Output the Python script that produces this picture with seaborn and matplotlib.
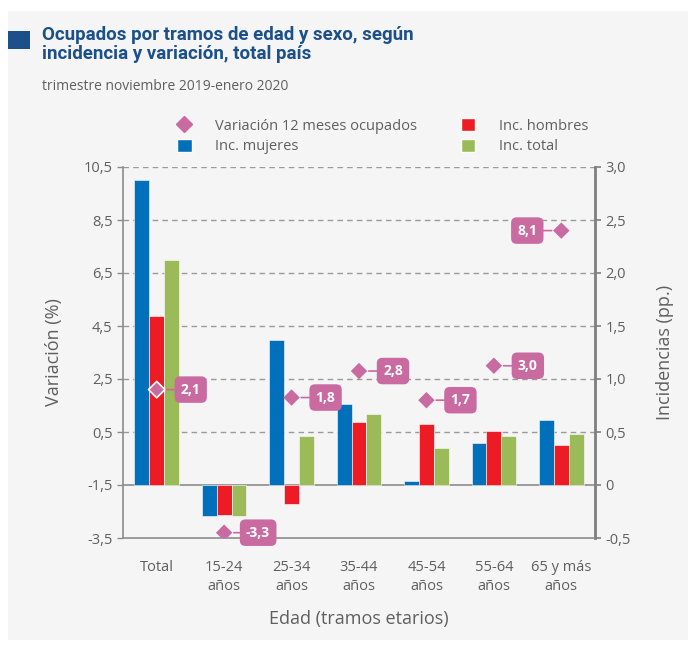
import numpy as np
import pandas as pd
import seaborn as sns
from matplotlib import pyplot as plt
from matplotlib.lines import Line2D
from matplotlib.patches import Patch, Rectangle

categories = ["Total", "15-24\naños", "25-34\naños", "35-44\naños", "45-54\naños", "55-64\naños", "65 y más\naños"]
inc_mujeres = [2.88, -0.29, 1.37, 0.76, 0.04, 0.40, 0.61]
inc_hombres = [1.59, -0.28, -0.18, 0.59, 0.58, 0.51, 0.38]
inc_total = [2.12, -0.29, 0.46, 0.67, 0.35, 0.46, 0.48]
variacion = [2.1, -3.3, 1.8, 2.8, 1.7, 3.0, 8.1]

series_names = ["Inc. mujeres", "Inc. hombres", "Inc. total"]
colors = ["#0070ba", "#ed1c24", "#9bbb59"]
pink = "#c96aa1"
navy = "#1b508a"
gray_txt = "#5f5f5f"

df = pd.DataFrame({
    "Edad": categories * 3,
    "serie": [s for s in series_names for _ in categories],
    "valor": inc_mujeres + inc_hombres + inc_total,
})

sns.set_style("ticks")
plt.rcParams["font.family"] = ["Open Sans", "DejaVu Sans"]

fig = plt.figure(figsize=(6.88, 6.48), dpi=100)
fig.patch.set_facecolor("white")
fig.patches.append(Rectangle((8 / 688, 8 / 648), 1 - 8 / 688, 1 - 19 / 648,
                             transform=fig.transFigure, facecolor="#f5f5f5",
                             edgecolor="none", zorder=-10))

ax = fig.add_axes([123 / 688, 110 / 648, 472 / 688, 371 / 648])
ax.set_facecolor("none")
ax2 = ax.twinx()

# bars on the incidences scale
sns.barplot(data=df, x="Edad", y="valor", hue="serie", palette=colors,
            saturation=1, width=0.66, ax=ax, edgecolor="white",
            linewidth=0.4, legend=False)

ax.set_ylim(-0.5, 3.0)
ax.set_xlim(-0.5, 6.5)
ax.yaxis.tick_right()
ax.yaxis.set_label_position("right")
ax.set_yticks(np.arange(-0.5, 3.01, 0.5))
ax.set_yticklabels(["-0,5", "0", "0,5", "1,0", "1,5", "2,0", "2,5", "3,0"])
for y in np.arange(0.5, 3.01, 0.5):
    ax.axhline(y, color="#9a9a9a", lw=1, ls=(0, (4, 3)), zorder=0)
ax.axhline(0, color="#8c8c8c", lw=1.2, zorder=0.5)
ax.set_ylabel("Incidencias (pp.)", fontsize=13, color=gray_txt, labelpad=18)
ax.set_xlabel("Edad (tramos etarios)", fontsize=13, color=gray_txt, labelpad=12)
ax.tick_params(axis="x", length=0, labelsize=10.5, labelcolor=gray_txt, pad=16)
ax.tick_params(axis="y", length=4, width=1.2, color="#7f7f7f", labelsize=10.5, labelcolor=gray_txt)
for lab in ax.get_xticklabels():
    lab.set_linespacing(1.3)

ax.spines["top"].set_visible(False)
ax.spines["left"].set_visible(False)
ax.spines["right"].set_color("#7f7f7f")
ax.spines["right"].set_linewidth(2)
ax.spines["bottom"].set_color("#8c8c8c")
ax.spines["bottom"].set_linewidth(1.2)

# diamonds on the variation scale
ax2.yaxis.tick_left()
ax2.yaxis.set_label_position("left")
ax2.set_ylim(-3.5, 10.5)
ax2.set_yticks(np.arange(-3.5, 10.51, 2))
ax2.set_yticklabels([f"{v:.1f}".replace(".", ",") for v in np.arange(-3.5, 10.51, 2)])
ax2.set_ylabel("Variación (%)", fontsize=13, color=gray_txt, labelpad=15)
ax2.tick_params(axis="y", length=4, width=1, color="#8c8c8c", labelsize=10.5, labelcolor=gray_txt)
for s in ["top", "right", "bottom"]:
    ax2.spines[s].set_visible(False)
ax2.spines["left"].set_color("#8c8c8c")
ax2.spines["left"].set_linewidth(1.2)

xpos = np.arange(len(categories))
edge = ["white"] + ["none"] * (len(categories) - 1)
sns.scatterplot(x=xpos, y=variacion, marker="D", s=70, color=pink,
                edgecolor=edge, linewidth=1.2, ax=ax2, zorder=5, legend=False)

for i, v in enumerate(variacion):
    dx = -34 if i == len(categories) - 1 else 34
    ax2.annotate(f"{v:.1f}".replace(".", ","), xy=(xpos[i], v),
                 xytext=(dx, 0), textcoords="offset pixels",
                 ha="center", va="center", color="white", fontsize=10,
                 fontweight="bold", zorder=6,
                 bbox=dict(boxstyle="round,pad=0.45,rounding_size=0.4",
                           fc=pink, ec="none"),
                 arrowprops=dict(arrowstyle="-", color=pink, lw=1.2,
                                 shrinkA=0, shrinkB=7))

# title block
fig.patches.append(Rectangle((8 / 688, (648 - 49) / 648), 22 / 688, 18 / 648,
                             transform=fig.transFigure, facecolor=navy,
                             edgecolor="none"))
fig.text(42 / 688, 1 - 26 / 648, "Ocupados por tramos de edad y sexo, según\nincidencia y variación, total país",
         fontsize=13.5, fontweight="bold", color=navy, va="top", ha="left",
         linespacing=1.05, family=["Roboto", "DejaVu Sans"])
fig.text(42 / 688, 1 - 79 / 648, "trimestre noviembre 2019-enero 2020",
         fontsize=10, color=gray_txt, va="top", ha="left")

handles = [
    Line2D([], [], marker="D", color=pink, ls="none", markersize=8),
    Patch(facecolor=colors[0]),
    Patch(facecolor=colors[1]),
    Patch(facecolor=colors[2]),
]
labels = ["Variación 12 meses ocupados", "Inc. mujeres", "Inc. hombres", "Inc. total"]
fig.legend(handles, labels, ncol=2, loc="upper left",
           bbox_to_anchor=(164 / 688, 1 - 105 / 648), frameon=False,
           fontsize=10.5, labelcolor=gray_txt, handlelength=1.0,
           handleheight=1.0, handletextpad=1.6, columnspacing=3.0,
           labelspacing=0.35)

plt.savefig("out.png", dpi=100)
